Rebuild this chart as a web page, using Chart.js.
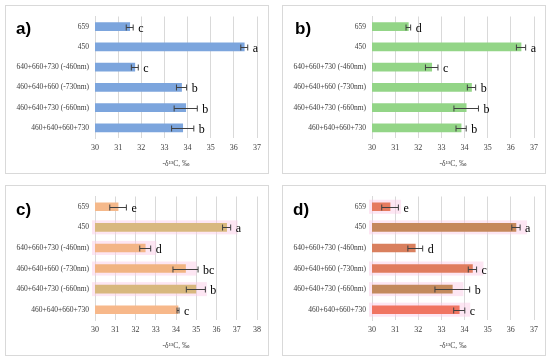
<!DOCTYPE html>
<html>
<head>
<meta charset="utf-8">
<script src="https://cdn.jsdelivr.net/npm/chart.js@4"></script>
<style>
  body { margin: 0; background: #fff; width: 550px; height: 363px; position: relative; overflow: hidden; }
  .panel { position: absolute; border: 1px solid #d9d9d9; box-sizing: border-box; background: #fff; }
  .panel canvas { position: absolute; left: 0; top: 0; }
  .tag { position: absolute; font-family: "Liberation Sans", Arial, sans-serif; font-weight: bold; font-size: 17px; color: #000; }
</style>
</head>
<body>
<div class="panel" style="left:5px;top:5px;width:264px;height:169px"><canvas id="ca"></canvas><div class="tag" style="left:10px;top:13px">a)</div></div>
<div class="panel" style="left:282px;top:5px;width:264px;height:169px"><canvas id="cb"></canvas><div class="tag" style="left:12px;top:13px">b)</div></div>
<div class="panel" style="left:5px;top:185px;width:264px;height:171px"><canvas id="cc"></canvas><div class="tag" style="left:10px;top:14px">c)</div></div>
<div class="panel" style="left:282px;top:185px;width:264px;height:171px"><canvas id="cd"></canvas><div class="tag" style="left:10px;top:14px">d)</div></div>
<script>
// categories (top to bottom)
const labels = ["659", "450", "640+660+730 (-460nm)", "460+640+660 (-730nm)", "460+640+730 (-660nm)", "460+640+660+730"];

// -d13C values, error bars and significance letters per panel
const valuesA = [31.5, 36.45, 31.72, 33.74, 33.92, 33.79];
const errorsA = [0.15, 0.15, 0.15, 0.22, 0.5, 0.48];
const lettersA = ["c", "a", "c", "b", "b", "b"];

const valuesB = [31.57, 36.44, 32.58, 34.3, 34.07, 33.85];
const errorsB = [0.1, 0.2, 0.27, 0.18, 0.53, 0.22];
const lettersB = ["d", "a", "c", "b", "b", "b"];

const valuesC = [31.14, 36.5, 32.48, 34.47, 34.98, 34.1];
const errorsC = [0.41, 0.2, 0.27, 0.62, 0.47, 0.05];
const lettersC = ["e", "a", "d", "bc", "b", "c"];

const valuesD = [30.78, 36.22, 31.87, 34.34, 33.47, 33.77];
const errorsD = [0.36, 0.18, 0.32, 0.18, 0.75, 0.24];
const lettersD = ["e", "a", "d", "c", "b", "c"];

const xTicksABD = [30, 31, 32, 33, 34, 35, 36, 37];
const xTicksC = [30, 31, 32, 33, 34, 35, 36, 37, 38];

const colorsA = "#7ca5dd";
const colorsB = "#93d587";
const colorsC = ["#f5b98b", "#d8b87e", "#f3b587", "#f1b482", "#d8b87e", "#f7b88a"];
const colorsD = ["#e57b5f", "#c5885b", "#d9805e", "#e07c5e", "#c38a5d", "#f07562"];
const haloC = [false, true, true, true, true, false];
const haloD = [true, true, false, true, true, true];

const serif = "'Liberation Serif', 'DejaVu Serif', serif";

const errPlugin = {
  id: "errbars",
  beforeDatasetsDraw(chart) {
    const halo = chart.options.plugins.errbars.halo;
    if (!halo) return;
    const ctx = chart.ctx;
    const left = chart.scales.x.left;
    const meta = chart.getDatasetMeta(0);
    ctx.save();
    ctx.fillStyle = "rgba(252, 205, 232, 0.5)";
    meta.data.forEach((bar, i) => {
      if (!halo[i]) return;
      const h = bar.height / 2 + 3;
      ctx.fillRect(left - 3, bar.y - h, bar.x - left + 14, h * 2);
    });
    ctx.restore();
  },
  afterDatasetsDraw(chart) {
    const opts = chart.options.plugins.errbars;
    const ctx = chart.ctx;
    const xs = chart.scales.x;
    const meta = chart.getDatasetMeta(0);
    const vals = chart.data.datasets[0].data;
    ctx.save();
    ctx.strokeStyle = "#404040";
    ctx.lineWidth = 1;
    meta.data.forEach((bar, i) => {
      const x1 = xs.getPixelForValue(vals[i] - opts.errors[i]);
      const x2 = xs.getPixelForValue(vals[i] + opts.errors[i]);
      const y = Math.round(bar.y) + 0.5;
      ctx.beginPath();
      ctx.moveTo(x1, y); ctx.lineTo(x2, y);
      ctx.moveTo(x1, y - 3); ctx.lineTo(x1, y + 3);
      ctx.moveTo(x2, y - 3); ctx.lineTo(x2, y + 3);
      ctx.stroke();
      ctx.fillStyle = "#000";
      ctx.font = "12px " + serif;
      ctx.textAlign = "left";
      ctx.textBaseline = "middle";
      ctx.fillText(opts.letters[i], x2 + 5, y + 1);
    });
    ctx.restore();
  }
};

function makeChart(id, w, h, values, errors, letters, colors, ticks, halo) {
  const cv = document.getElementById(id);
  cv.width = w; cv.height = h;
  return new Chart(cv, {
    type: "bar",
    data: {
      labels: labels,
      datasets: [{ data: values, backgroundColor: colors, barThickness: 8 }]
    },
    options: {
      indexAxis: "y",
      responsive: false,
      animation: false,
      layout: { padding: { top: 6, bottom: 2, right: 11, left: 0 } },
      plugins: {
        legend: { display: false },
        tooltip: { enabled: false },
        errbars: { errors: errors, letters: letters, halo: halo }
      },
      scales: {
        x: {
          min: ticks[0],
          max: ticks[ticks.length - 1],
          afterBuildTicks(s) { s.ticks = ticks.map(v => ({ value: v })); },
          afterFit(s) { s.height = 33; },
          grid: { color: "#d9d9d9", drawTicks: false },
          border: { display: false },
          ticks: { color: "#404040", font: { family: serif, size: 8 }, padding: 5 },
          title: { display: true, text: "-δ¹³C, ‰", color: "#404040", font: { family: serif, size: 7.5 }, padding: { top: 2, bottom: 2 } }
        },
        y: {
          afterFit(s) { s.width = 89; },
          grid: { display: false, drawTicks: false },
          border: { display: true, color: "#d9d9d9" },
          ticks: { color: "#404040", font: { family: serif, size: 7.5 }, padding: 6 }
        }
      }
    },
    plugins: [errPlugin]
  });
}

makeChart("ca", 262, 167, valuesA, errorsA, lettersA, colorsA, xTicksABD, null);
makeChart("cb", 262, 167, valuesB, errorsB, lettersB, colorsB, xTicksABD, null);
makeChart("cc", 262, 169, valuesC, errorsC, lettersC, colorsC, xTicksC, haloC);
makeChart("cd", 262, 169, valuesD, errorsD, lettersD, colorsD, xTicksABD, haloD);
</script>
</body>
</html>
